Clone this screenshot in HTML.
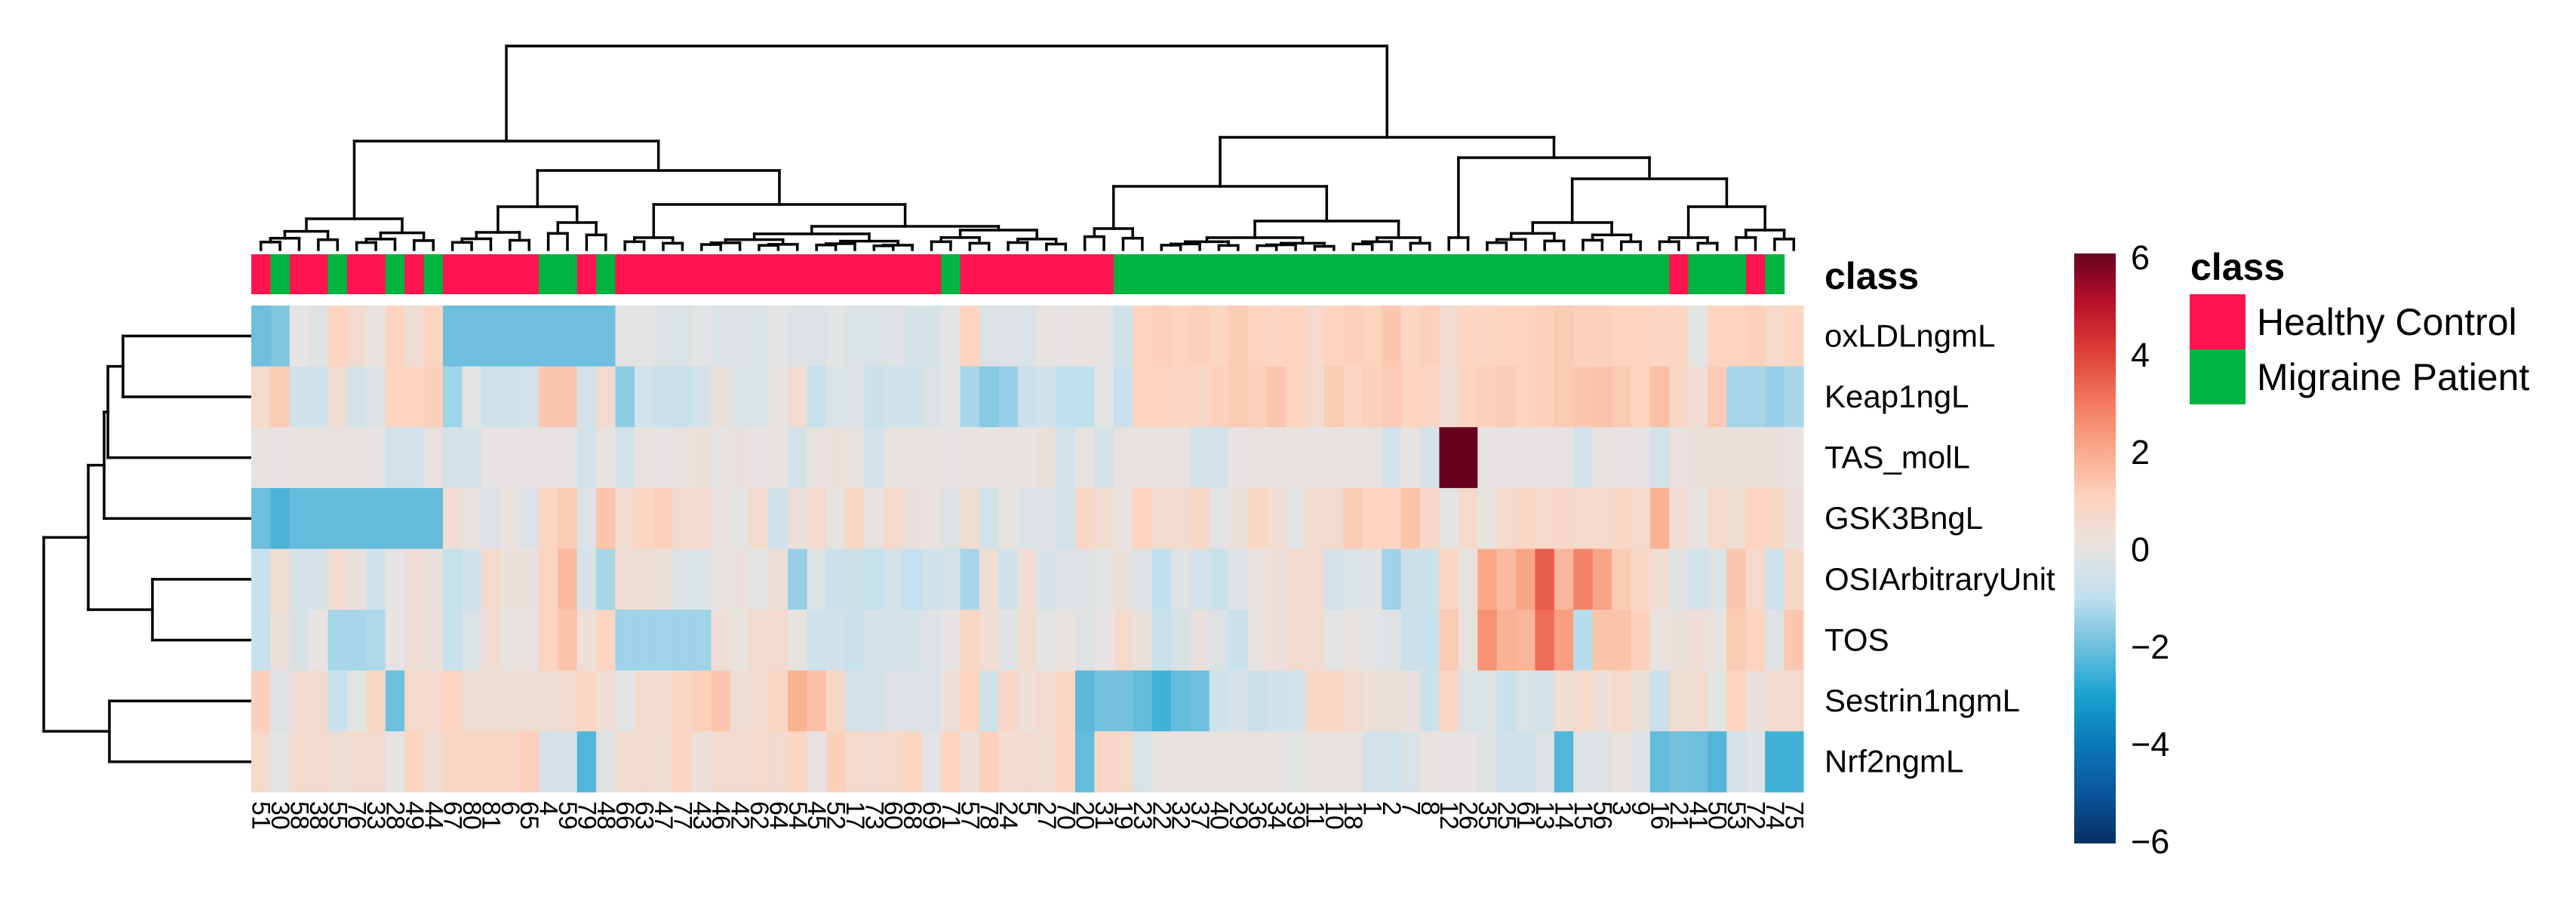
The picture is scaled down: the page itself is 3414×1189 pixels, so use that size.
<!DOCTYPE html>
<html><head><meta charset="utf-8"><style>
html,body{margin:0;padding:0;background:#fff;}
svg{display:block;font-family:"Liberation Sans",sans-serif;}
</style></head><body>
<svg id="chart" width="3414" height="1189" viewBox="0 0 3414 1189" xmlns="http://www.w3.org/2000/svg">
<g id="dendTop"></g>
<g id="dendLeft"></g>
<g id="classBar"></g>
<g id="cells"></g>
<g id="rowLabels"></g>
<g id="colLabels"></g>
<text x="2418" y="383" font-size="50" font-weight="bold">class</text>
<defs><linearGradient id="cbar" x1="0" y1="1" x2="0" y2="0"></linearGradient></defs>
<rect x="2749" y="336" width="55" height="782" fill="url(#cbar)"/>
<g id="cbTicks"></g>
<text x="2903" y="371" font-size="50" font-weight="bold">class</text>
<rect x="2902" y="390" width="74" height="73" fill="#FF144F"/>
<rect x="2902" y="463" width="74" height="73" fill="#00B43F"/>
<text x="2991" y="444" font-size="50">Healthy Control</text>
<text x="2991" y="517" font-size="50">Migraine Patient</text>
</svg>
<script>
const rowNames = ["oxLDLngmL","Keap1ngL","TAS_molL","GSK3BngL","OSIArbitraryUnit","TOS","Sestrin1ngmL","Nrf2ngmL"];
const colNames = [51,30,58,38,55,76,33,28,49,44,67,80,81,6,65,4,59,79,48,66,63,47,77,43,46,42,62,64,54,45,52,17,73,60,68,69,71,57,78,24,5,27,70,20,31,19,23,22,32,37,40,29,36,34,39,11,10,18,1,2,7,8,12,26,35,25,61,13,14,15,56,3,9,16,21,41,50,53,72,74,75];
const classes = "HMHHMHHMHMHHHHHMMHMHHHHHHHHHHHHHHHHHMHHHHHHHHMMMMMMMMMMMMMMMMMMMMMMMMMMMMMHMMMHM".split("");
const oxLDL = [-2,-1.8,0,-0.2,1,0.6,0.1,1,0.4,1,-2,-2,-2,-2,-2,-2,-2,-2,-2,-0.1,-0.1,-0.2,-0.3,-0.1,-0.3,-0.2,-0.3,-0.1,-0.2,-0.3,-0.1,-0.3,-0.3,-0.2,-0.4,-0.4,-0.1,1,-0.3,-0.2,-0.3,0.1,0,0.1,0,-0.6,1,1.1,1,1.1,0.9,1.2,1,0.9,1,0.7,1,1.1,1,1.3,0.9,1.1,0.6,0.9,0.9,1,1,1.1,1.2,1.1,1.1,1,1,0.9,0.9,-0.1,1,1,1.1,0.7,0.9];
const keap1 = [0.7,1.2,-0.6,-0.6,0.5,-0.5,-0.2,1,1,1.1,-1.4,-0.1,-0.6,-0.6,-0.5,1.3,1.3,-0.5,0.6,-1.6,-0.5,-0.8,-0.8,-0.5,0.2,-0.3,-0.3,0.1,0.5,-0.8,-0.3,-0.2,-0.7,-0.6,-0.6,-0.3,-0.1,-1.3,-1.7,-1.5,-0.8,-0.6,-1,-1,-0.1,-0.8,1,1,0.9,0.8,1.1,1.2,1.1,1.3,1,0.6,1.2,0.9,1.1,1.2,1,0.9,0.4,1,1.1,1.2,1,1.1,1.2,1.3,1.4,1.2,1,1.5,0.8,0.4,1.2,-1.3,-1.3,-1.5,-1.3];
const tas = [0.1,0,0.1,0.1,0.1,0.1,0,-0.5,-0.5,0.1,-0.5,-0.5,0,0,0,0,0,-0.5,0.1,-0.5,0.1,0,0.1,0.2,0,0.2,0,0.1,-0.5,0.1,0.2,0.1,-0.5,0.1,0.1,0.1,0,0.1,0,0.1,0,0.2,-0.5,0.1,-0.5,0.1,0.1,0.1,0.1,-0.5,-0.5,0,0.1,0.1,0.1,0,0.1,0.1,0.1,-0.5,0.1,-0.5,6,6,0,0,0,0,0,-0.5,0.1,0,0,-0.5,0.1,0.2,0.2,0.2,0.2,0.2,0.1];
const gsk3b = [-2,-2.4,-2.1,-2.1,-2.1,-2.1,-2.1,-2.1,-2.1,-2.1,0.5,0.1,-0.2,0.1,-0.3,0.9,1.2,-0.2,1.4,0.5,0.9,1.1,0.6,0.6,0.1,-0.1,0.6,-0.6,0.2,0.7,0.1,0.8,0.1,0.7,0.2,0.1,-0.2,0.5,-0.5,0.1,-0.3,-0.2,-0.5,0.8,0.5,0.1,1,0.6,0.6,0.8,-0.1,0.2,0.8,0.4,-0.1,0.6,0.6,1.2,1,1,1.4,0.8,-0.1,0.7,0.1,0.7,0.8,0.7,0.8,0.7,0.7,0.8,0.7,1.8,0.5,0,0.7,0.5,1,0.8,0.2];
const osi = [-0.8,0.5,-0.4,-0.4,0.5,0.2,-0.6,0,0.3,0.2,-0.9,-0.6,0.7,0.2,0.2,1,1.6,-0.4,-1.3,0.4,0.4,0.2,-0.3,-0.3,0,0.2,-0.1,0.3,-1.5,-0.3,-0.8,-0.7,-0.9,-0.5,-0.9,-0.6,-0.5,-1.3,0.5,-0.6,0.4,-0.4,-0.2,-0.2,-0.1,0.2,-0.2,-1,-0.2,-0.5,-0.7,-0.2,0.1,0.3,0.6,0.5,-0.5,-0.3,-0.2,-1.4,-0.7,-0.7,0.9,0.1,2,1.6,2.1,3.5,1.7,2.8,2.1,1.2,0.8,0.4,-0.2,-0.5,-0.3,1.3,0.7,-0.6,0.8];
const tos = [-0.8,0.2,-0.4,0,-1.3,-1.3,-1.2,0,0.3,0.2,-0.8,-0.3,0.5,0.1,0.1,1,1.4,0.3,1,-1.4,-1.4,-1.4,-1.4,-1.4,0.3,0.1,0.6,0.6,0.1,-0.6,-0.6,-0.8,-0.4,-0.5,-0.4,-0.2,0,0.8,0.5,-0.2,0.5,-0.1,0.1,-0.2,0,0.6,0.2,-0.8,-0.4,0.2,-0.3,-0.8,0.1,0.3,0.6,0.5,-0.1,0.1,-0.1,-0.2,-0.8,-0.8,1.2,0.1,2.5,1.8,1.7,3.2,2.2,-1.1,1.4,1.4,1.1,0.1,0.2,0.3,0.1,1.2,1,-0.2,1.3];
const sestrin = [1.1,-0.2,0.5,0.6,-0.8,-0.1,0.8,-2,0.7,0.7,0.9,0.4,0.4,0.4,0.4,0.4,0.6,0.8,0.4,-0.1,0.6,0.6,0.8,1.1,1.3,0.4,0.6,0.8,1.8,1.5,0.8,-0.5,-0.5,-0.2,-0.2,-0.3,0.3,1,-0.6,0.8,0.3,0.6,0.8,-2.2,-1.9,-1.9,-2.1,-2.5,-2.1,-2,-0.6,-0.4,-0.7,-0.6,-0.5,0.8,0.8,0.6,0.3,0.2,0.2,-0.7,0.9,-0.3,-0.3,-0.8,-0.3,-0.5,0.5,0.7,0.3,0.7,0.2,-0.7,0.5,0.5,-0.1,1,0.2,0.6,0.6];
const nrf2 = [0.7,-0.1,0.6,0.6,0.4,0.6,0.6,0,1,0.4,0.8,0.8,0.8,0.8,1.1,-0.4,-0.4,-2.3,-0.2,0.5,0.6,0.5,0.9,0.3,0.6,0.6,0.7,0.6,0.9,0.1,1.1,0.7,0.6,0.7,0.9,-0.1,1,0.3,1.1,0.5,0.6,0.5,0.9,-2.1,0.8,0.7,-0.3,0.1,0.1,0.1,0.1,0.1,0.1,0.1,-0.1,0.1,0.1,0.1,-0.5,-0.5,-0.3,0.1,0,0,-0.2,-0.6,-0.6,-0.2,-2.3,-0.2,-0.2,0.1,-0.2,-2.1,-1.9,-2,-2.3,-0.5,-0.2,-2.5,-2.5];
const colorTicks = [-6,-4,-2,0,2,4,6];
const colorStops = [-6,-5,-4,-3,-2,-1,0,1,2,3,4,5,6];
const stopColors = ["#053061","#0b559a","#0a78b6","#17a2cf","#6dbfdd","#c0e0ee","#e6e3e2","#fcd4c0","#f9a98a","#f2785e","#dc3f36","#b8112a","#67001f"];
const topTree = [61,
  [187, {r:[0,9],h:290},
    [226, [274,{r:[10,14],h:308},{r:[15,18],h:295}],
          [271,{r:[19,22],h:315},[300,{r:[23,34],h:310},{r:[35,42],h:305}]]]],
  [182, [247,{r:[43,46],h:303},[293,{r:[47,56],h:315},{r:[57,61],h:315}]],
        [209,{r:[62,63],h:315},[237,{r:[64,72],h:295},[274,{r:[73,76],h:315},{r:[77,80],h:305}]]]]];
const leftTree = [58, [117, [138, [143, [163, 0, 1], 2], 3], [202, 4, 5]], [145, 6, 7]];

const series = [oxLDL, keap1, tas, gsk3b, osi, tos, sestrin, nrf2];
const NS = "http://www.w3.org/2000/svg";
const X0 = 333, X1 = 2390, Y0 = 405, Y1 = 1050;
const nC = colNames.length, nR = rowNames.length;
const cw = (X1 - X0) / nC, rh = (Y1 - Y0) / nR;
const xScale = i => X0 + i * cw;
const yScale = j => Y0 + j * rh;
function hex(c){return [1,3,5].map(k=>parseInt(c.substr(k,2),16));}
function color(v){
  v = Math.max(colorStops[0], Math.min(colorStops[colorStops.length-1], v));
  for (let k=0;k<colorStops.length-1;k++){
    if (v<=colorStops[k+1]){
      const t=(v-colorStops[k])/(colorStops[k+1]-colorStops[k]);
      const a=hex(stopColors[k]), b=hex(stopColors[k+1]);
      return "rgb("+a.map((x,i)=>Math.round(x+(b[i]-x)*t)).join(",")+")";
    }
  }
  return stopColors[stopColors.length-1];
}
function mk(tag, attrs, parent){const e=document.createElementNS(NS,tag);for(const k in attrs)e.setAttribute(k,attrs[k]);parent.appendChild(e);return e;}

const cells = document.getElementById("cells");
series.forEach((vals, j) => {
  vals.forEach((v, i) => {
    const r = mk("rect",{x:xScale(i).toFixed(2),y:yScale(j).toFixed(2),width:(cw+0.6).toFixed(2),height:(rh+0.4).toFixed(2),fill:color(v)},cells);
    
    
  });
});
const cb = document.getElementById("classBar");
classes.forEach((c, i) => {
  const r = mk("rect",{x:xScale(i).toFixed(2),y:337,width:(cw+0.6).toFixed(2),height:53,fill:c==="H"?"#FF144F":"#00B43F"},cb);
  
  
});
const rl = document.getElementById("rowLabels");
rowNames.forEach((n, j) => {
  const t = mk("text",{x:2418,y:(yScale(j)+rh/2+14).toFixed(1),"font-size":42},rl);
  t.textContent = n;
  
  
});
const cl = document.getElementById("colLabels");
colNames.forEach((n, i) => {
  const cx = xScale(i)+cw/2, y = 1062;
  const t = mk("text",{x:cx.toFixed(1),y:y,"font-size":34,transform:`rotate(90 ${cx.toFixed(1)} ${y})`,"dominant-baseline":"central"},cl);
  t.textContent = n;
  
  
});
const grad = document.getElementById("cbar");
colorStops.forEach((s, k) => {
  const st = mk("stop",{offset:((s-colorStops[0])/(colorStops[colorStops.length-1]-colorStops[0])).toFixed(3),"stop-color":stopColors[k]},grad);
  
  
});
const cbt = document.getElementById("cbTicks");
const cbY = v => 341 + (6 - v) / 12 * (1115 - 341);
colorTicks.forEach(v => {
  const t = mk("text",{x:2824,y:(cbY(v)+16).toFixed(1),"font-size":45},cbt);
  t.textContent = v < 0 ? "\u2212" + Math.abs(v) : String(v);
  
  
});
const dt = document.getElementById("dendTop");
const LEAFY = 331;
function line(g, x1, y1, x2, y2){
  const l = mk("line",{x1:x1,y1:y1,x2:x2,y2:y2,stroke:"#000","stroke-width":3.5,"stroke-linecap":"square"},g);
  
  
}
function expandRange(lo, hi, h){
  if (lo === hi) return {x: xScale(lo)+cw/2, y: LEAFY};
  const mid = Math.floor((lo+hi)/2);
  const ch = h + (LEAFY - 4 - h) * 0.45;
  const a = expandRange(lo, mid, ch), b = expandRange(mid+1, hi, ch + 2);
  line(dt, a.x, h, b.x, h); line(dt, a.x, h, a.x, a.y); line(dt, b.x, h, b.x, b.y);
  return {x:(a.x+b.x)/2, y:h};
}
function drawTop(node){
  if (!Array.isArray(node)) return expandRange(node.r[0], node.r[1], node.h);
  const a = drawTop(node[1]), b = drawTop(node[2]), h = node[0];
  line(dt, a.x, h, b.x, h); line(dt, a.x, h, a.x, a.y); line(dt, b.x, h, b.x, b.y);
  return {x:(a.x+b.x)/2, y:h};
}
drawTop(topTree);
const dl = document.getElementById("dendLeft");
function drawLeft(node){
  if (!Array.isArray(node)) return {y: yScale(node)+rh/2, x: 332};
  const a = drawLeft(node[1]), b = drawLeft(node[2]), x = node[0];
  line(dl, x, a.y, x, b.y); line(dl, x, a.y, a.x, a.y); line(dl, x, b.y, b.x, b.y);
  return {y:(a.y+b.y)/2, x:x};
}
drawLeft(leftTree);
</script>
</body></html>
